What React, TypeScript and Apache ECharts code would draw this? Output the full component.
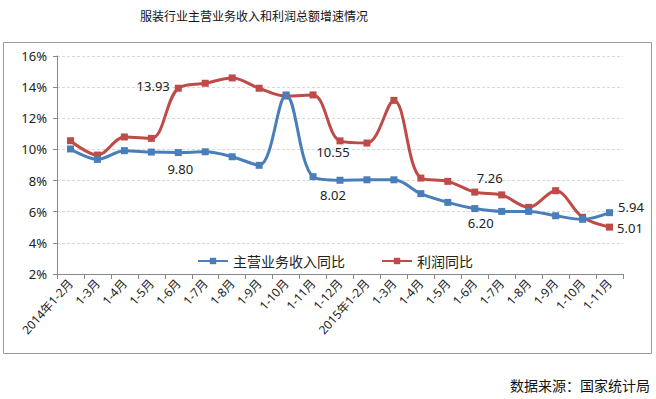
import React, { useEffect, useRef } from "react";
import * as echarts from "echarts";

const categories = [
  "2014年1-2月", "1-3月", "1-4月", "1-5月", "1-6月", "1-7月", "1-8月", "1-9月", "1-10月", "1-11月", "1-12月",
  "2015年1-2月", "1-3月", "1-4月", "1-5月", "1-6月", "1-7月", "1-8月", "1-9月", "1-10月", "1-11月",
];
const revenueGrowth = [10.03, 9.36, 9.92, 9.83, 9.8, 9.85, 9.53, 8.98, 13.5, 8.25, 8.02, 8.05, 8.05, 7.16, 6.6, 6.2, 6.02, 6.02, 5.74, 5.51, 5.94];
const profitGrowth = [10.56, 9.64, 10.8, 10.71, 13.93, 14.25, 14.59, 13.93, 13.43, 13.5, 10.55, 10.41, 13.15, 8.16, 7.95, 7.26, 7.08, 6.28, 7.35, 5.64, 5.01];
const yTicks = { min: 2, max: 16, interval: 2 };
const title = "服装行业主营业务收入和利润总额增速情况";
const source = "数据来源：国家统计局";
const seriesNames = ["主营业务收入同比", "利润同比"];

const FONT = "'Noto Sans', 'Noto Sans CJK SC', sans-serif";

type LabelCfg = { position: string; offset: number[] };
const revenueLabels: Record<number, LabelCfg> = {
  4: { position: "bottom", offset: [2, 2] },
  10: { position: "bottom", offset: [-7, 1] },
  15: { position: "bottom", offset: [6, 0] },
  20: { position: "right", offset: [1, -6] },
};
const profitLabels: Record<number, LabelCfg> = {
  4: { position: "left", offset: [-1, -2] },
  10: { position: "bottom", offset: [-7, -3] },
  15: { position: "top", offset: [15, 0] },
  20: { position: "right", offset: [0, 1] },
};

function buildData(values: number[], labels: Record<number, LabelCfg>) {
  return values.map((v, i) => {
    const l = labels[i];
    if (!l) return v;
    return {
      value: v,
      label: {
        show: true,
        position: l.position,
        offset: l.offset,
        formatter: (p: any) => Number(p.value).toFixed(2),
        fontSize: 13,
        color: "#222",
        fontFamily: FONT,
        distance: 4,
      },
    };
  });
}

export default function App() {
  const ref = useRef<HTMLDivElement>(null);
  useEffect(() => {
    if (!ref.current) return;
    const chart = echarts.init(ref.current, undefined, { renderer: "svg" });
    chart.setOption({
      animation: false,
      backgroundColor: "#fff",
      textStyle: { fontFamily: FONT },
      graphic: [
        {
          type: "rect",
          shape: { x: 3.5, y: 42.5, width: 648, height: 311 },
          style: { fill: "none", stroke: "#9a9a9a", lineWidth: 1 },
          z: -1,
        },
        {
          type: "text",
          x: 254,
          y: 16,
          style: {
            text: title,
            fontSize: 12,
            fontFamily: FONT,
            fill: "#111",
            textAlign: "center",
            textVerticalAlign: "middle",
          },
        },
        {
          type: "text",
          x: 650,
          y: 385,
          style: {
            text: source,
            fontSize: 14,
            fontFamily: FONT,
            fill: "#111",
            textAlign: "right",
            textVerticalAlign: "middle",
          },
        },
      ],
      legend: {
        data: seriesNames,
        left: 197,
        top: 254,
        padding: 0,
        itemWidth: 30,
        itemHeight: 8,
        itemGap: 36,
        textStyle: { fontSize: 14, color: "#222", fontFamily: FONT },
      },
      grid: { left: 57, right: 33, top: 56, bottom: 125 },
      xAxis: {
        type: "category",
        data: categories,
        boundaryGap: true,
        axisLine: { lineStyle: { color: "#888" } },
        axisTick: { show: true, length: 5, lineStyle: { color: "#888" } },
        axisLabel: { rotate: 48, fontSize: 12, color: "#222", margin: 7, interval: 0, fontFamily: FONT },
      },
      yAxis: {
        type: "value",
        min: yTicks.min,
        max: yTicks.max,
        interval: yTicks.interval,
        axisLine: { show: true, lineStyle: { color: "#888" } },
        axisTick: { show: true, length: 4, lineStyle: { color: "#888" } },
        axisLabel: { formatter: "{value}%", fontSize: 13, color: "#222", margin: 10, fontFamily: FONT },
        splitLine: { lineStyle: { color: "#d9d9d9", type: [3, 2] } },
      },
      series: [
        {
          name: seriesNames[0],
          type: "line",
          smooth: 0.35,
          data: buildData(revenueGrowth, revenueLabels),
          symbol: "rect",
          symbolSize: 7,
          lineStyle: { width: 3, color: "#4a7ebb" },
          itemStyle: { color: "#4a7ebb" },
          z: 3,
        },
        {
          name: seriesNames[1],
          type: "line",
          smooth: 0.35,
          data: buildData(profitGrowth, profitLabels),
          symbol: "rect",
          symbolSize: 7,
          lineStyle: { width: 3, color: "#be4b48" },
          itemStyle: { color: "#be4b48" },
          z: 2,
        },
      ],
    });
    return () => chart.dispose();
  }, []);
  return <div ref={ref} style={{ width: 656, height: 399, position: "absolute", left: 0, top: 0 }} />;
}
